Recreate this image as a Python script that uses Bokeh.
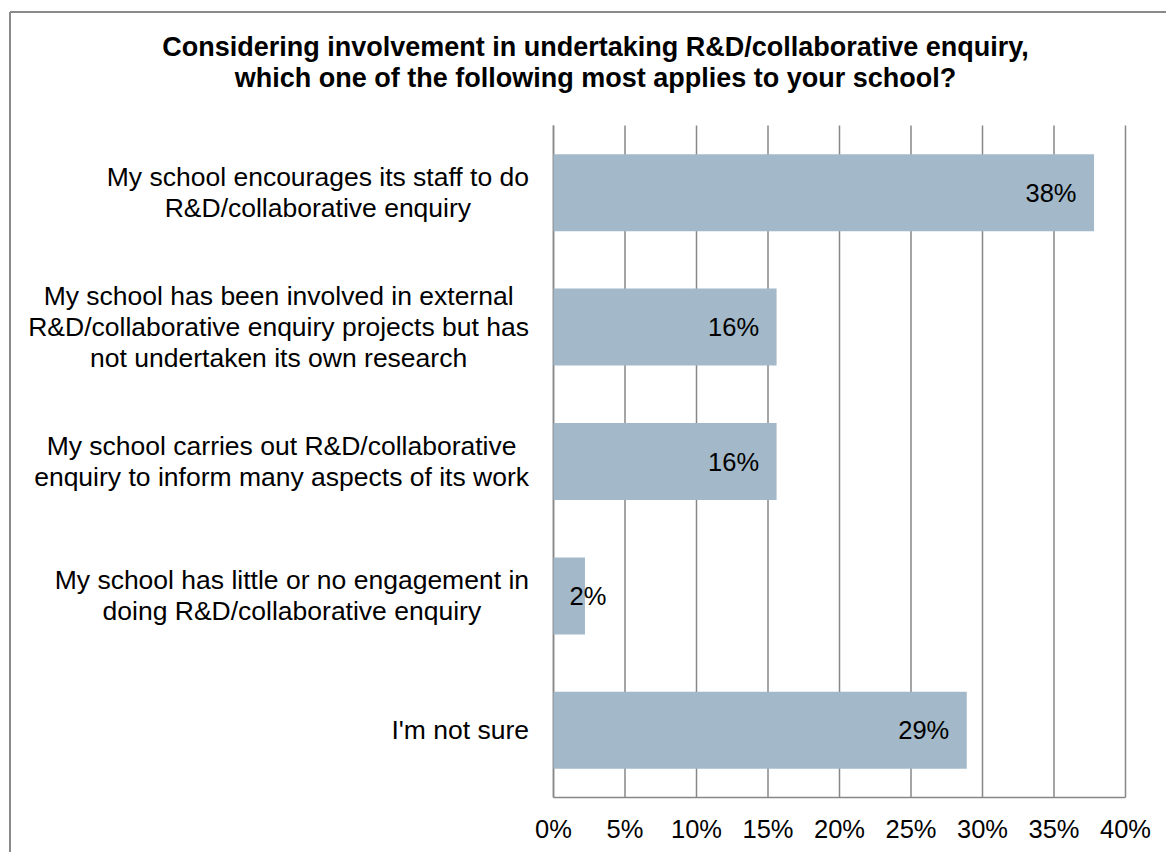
import glob
from bokeh.plotting import figure
from bokeh.models import Range1d, ColumnDataSource
from bokeh.core.properties import value
from bokeh.embed import file_html
from bokeh.resources import INLINE

# ---------------- data ----------------
title_lines = ["Considering involvement in undertaking R&D/collaborative enquiry,",
               "which one of the following most applies to your school?"]
categories = [
    "My school encourages its staff to do\nR&D/collaborative enquiry",
    "My school has been involved in external\nR&D/collaborative enquiry projects but has\nnot undertaken its own research",
    "My school carries out R&D/collaborative\nenquiry to inform many aspects of its work",
    "My school has little or no engagement in\ndoing R&D/collaborative enquiry",
    "I'm not sure",
]
values = [37.8, 15.6, 15.6, 2.2, 28.9]
value_labels = ["38%", "16%", "16%", "2%", "29%"]
x_ticks = [0, 5, 10, 15, 20, 25, 30, 35, 40]
x_tick_labels = ["0%", "5%", "10%", "15%", "20%", "25%", "30%", "35%", "40%"]

# ---------------- style / layout ----------------
FONT = "Liberation Sans"
FS_CAT = 26.5
FS_TITLE = 27
FS_NUM = 25.5
BAR = "#A3B8C8"
GRID = "#878787"
BORDER = "#8a8a8a"

W, H = 1166, 852
CX0, CX1 = 553, 1125   # pixel x of 0% and 40%
CYT, CYB = 125, 797    # pixel y of top / bottom of plot area
XMAX = 40
n = len(categories)
ppx = (CX1 - CX0) / XMAX
ppy = (CYB - CYT) / n

def px2x(px):
    return (px - CX0) / ppx

def py2y(py):
    return (CYB - py) / ppy

# text width measurement for label block centering
_font = None
for pat in ["/usr/share/fonts/**/LiberationSans-Regular.ttf",
            "/usr/share/**/LiberationSans-Regular.ttf"]:
    hits = glob.glob(pat, recursive=True)
    if hits:
        try:
            from PIL import ImageFont
            _font = ImageFont.truetype(hits[0], 100)
            break
        except Exception:
            _font = None

def tw(s, fs):
    if _font is not None:
        return _font.getlength(s) * fs / 100.0
    return len(s) * fs * 0.5

p = figure(width=W, height=H, output_backend="svg", toolbar_location=None,
           x_range=Range1d(px2x(0), px2x(W)), y_range=Range1d(py2y(H), py2y(0)),
           x_axis_location=None, y_axis_location=None, min_border=0)
p.outline_line_color = None
p.grid.visible = False
p.background_fill_color = "white"
p.border_fill_color = "white"

# chart border (left and top visible in reference)
p.segment(x0=[px2x(9.5), px2x(9.5)], y0=[py2y(11.5), py2y(11.5)],
          x1=[px2x(9.5), px2x(W)], y1=[py2y(H), py2y(11.5)],
          line_color=BORDER, line_width=2)

# gridlines
p.segment(x0=x_ticks, y0=[0] * len(x_ticks), x1=x_ticks, y1=[n] * len(x_ticks),
          line_color=GRID, line_width=1.5)
# axis lines
p.segment(x0=[0, 0], y0=[0, 0], x1=[XMAX, 0], y1=[0, n], line_color=GRID, line_width=1.5)

# bars
ypos = [n - i - 0.5 for i in range(n)]
src = ColumnDataSource(dict(y=ypos, v=values))
p.hbar(y="y", right="v", left=0, height=0.573, source=src, fill_color=BAR, line_color=None)

# tick labels
p.text(x=x_ticks, y=[py2y(828)] * len(x_ticks), text=x_tick_labels,
       text_align="center", text_baseline="middle", text_font=value(FONT),
       text_font_size=f"{FS_NUM}px", text_color="black")

# category labels: lines centered, block right-aligned near the axis
cat_off = [-(24.5 + max(tw(s, FS_CAT) for s in c.split("\n")) / 2) for c in categories]
p.text(x=[0] * n, y=ypos, text=categories, x_offset=cat_off,
       text_align="center", text_baseline="middle", text_font=value(FONT),
       text_font_size=f"{FS_CAT}px", text_color="black", text_line_height=1.035)

# value labels
in_x, in_y, in_t, out_x, out_y, out_t = [], [], [], [], [], []
for y, v, lab in zip(ypos, values, value_labels):
    if v * ppx > tw(lab, FS_NUM) + 36:
        in_x.append(v); in_y.append(y); in_t.append(lab)
    else:
        out_x.append(v); out_y.append(y); out_t.append(lab)
p.text(x=in_x, y=in_y, text=in_t, x_offset=-17.5, text_align="right",
       text_baseline="middle", text_font=value(FONT), text_font_size=f"{FS_NUM}px",
       text_color="black")
p.text(x=out_x, y=out_y, text=out_t, x_offset=3, text_align="center",
       text_baseline="middle", text_font=value(FONT), text_font_size=f"{FS_NUM}px",
       text_color="black")

# title
p.text(x=[px2x(595)], y=[py2y(62)], text=["\n".join(title_lines)],
       text_align="center", text_baseline="middle", text_font=value(FONT),
       text_font_size=f"{FS_TITLE}px", text_font_style="bold", text_color="black",
       text_line_height=1.03)

open("out.html", "w").write(file_html(p, INLINE))
